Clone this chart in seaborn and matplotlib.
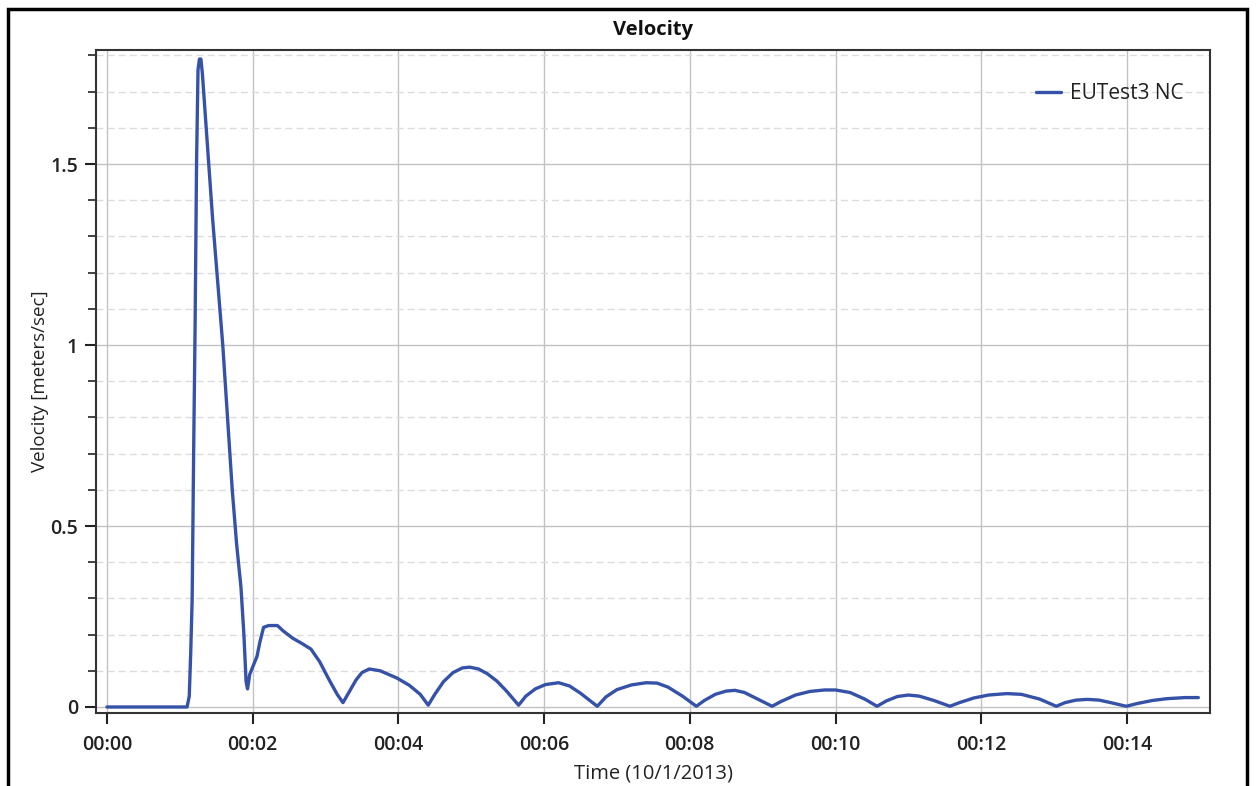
import matplotlib
matplotlib.use("Agg")
import matplotlib.pyplot as plt
import seaborn as sns
import pandas as pd
from matplotlib.ticker import MultipleLocator, FuncFormatter
from matplotlib.patches import Rectangle

# ---- data (time in seconds, velocity in m/s) ----
time_s = [0.0, 1.10, 1.13, 1.15, 1.17, 1.19, 1.21, 1.23, 1.25, 1.27, 1.29, 1.31, 1.45, 1.59,
          1.72, 1.78, 1.84, 1.88, 1.91, 1.93, 1.96, 2.02, 2.06, 2.10, 2.15, 2.22, 2.34, 2.42,
          2.55, 2.68, 2.80, 2.92, 3.05, 3.16, 3.24, 3.32, 3.42, 3.50, 3.60, 3.75, 3.98,
          4.15, 4.30, 4.41, 4.50, 4.62, 4.75, 4.88, 4.98, 5.10, 5.22, 5.35, 5.48, 5.65,
          5.75, 5.88, 6.02, 6.20, 6.35, 6.50, 6.73, 6.85, 7.00, 7.20, 7.40, 7.55, 7.70,
          7.90, 8.09, 8.20, 8.35, 8.50, 8.62, 8.75, 8.90, 9.13, 9.25, 9.45, 9.65, 9.85,
          10.00, 10.20, 10.40, 10.57, 10.70, 10.85, 11.00, 11.15, 11.35, 11.57, 11.70,
          11.90, 12.10, 12.35, 12.55, 12.80, 13.03, 13.15, 13.30, 13.46, 13.62, 13.80,
          13.99, 14.15, 14.35, 14.55, 14.80, 14.98]
velocity = [0.0, 0.0, 0.03, 0.15, 0.30, 0.70, 1.05, 1.50, 1.76, 1.79, 1.79, 1.75, 1.35, 1.00,
            0.60, 0.45, 0.33, 0.20, 0.07, 0.05, 0.09, 0.12, 0.14, 0.18, 0.22, 0.225, 0.225, 0.21,
            0.19, 0.175, 0.16, 0.125, 0.075, 0.035, 0.012, 0.04, 0.075, 0.095, 0.105, 0.100, 0.080,
            0.06, 0.035, 0.005, 0.035, 0.07, 0.095, 0.108, 0.11, 0.105, 0.092, 0.072, 0.045, 0.005,
            0.03, 0.05, 0.062, 0.067, 0.058, 0.038, 0.002, 0.028, 0.048, 0.061, 0.067, 0.066, 0.055,
            0.03, 0.002, 0.018, 0.035, 0.044, 0.046, 0.040, 0.025, 0.002, 0.015, 0.033, 0.043, 0.047,
            0.047, 0.040, 0.022, 0.002, 0.017, 0.029, 0.033, 0.030, 0.018, 0.002, 0.012,
            0.025, 0.033, 0.037, 0.035, 0.022, 0.002, 0.012, 0.019, 0.021, 0.019, 0.011,
            0.002, 0.010, 0.018, 0.023, 0.026, 0.026]
series_name = "EUTest3 NC"
x_ticks = [0, 2, 4, 6, 8, 10, 12, 14]
y_ticks = [0, 0.5, 1, 1.5]
y_tick_labels = ["0", "0.5", "1", "1.5"]

df = pd.DataFrame({"Time": time_s, "Velocity": velocity, "Series": series_name})

sns.set_style("white")
plt.rcParams["font.family"] = ["Open Sans", "DejaVu Sans"]

fig = plt.figure(figsize=(12.57, 7.86), dpi=100)
ax = fig.add_axes([96 / 1257, 1 - 713 / 786, (1210 - 96) / 1257, (713 - 50) / 786])

sns.lineplot(data=df, x="Time", y="Velocity", hue="Series", palette=["#3552a8"],
             linewidth=2.4, ax=ax, sort=False)

ax.set_xlim(-0.15, 15.14)
ax.set_ylim(-0.0166, 1.815)
ax.set_xticks(x_ticks)
ax.xaxis.set_major_formatter(FuncFormatter(lambda v, p: "00:%02d" % int(round(v))))
ax.set_yticks(y_ticks)
ax.set_yticklabels(y_tick_labels)
ax.yaxis.set_minor_locator(MultipleLocator(0.1))

ax.grid(which="major", axis="both", color="#c2c2c2", linestyle="-", linewidth=1.0)
ax.grid(which="minor", axis="y", color="#dcdcdc", linestyle=(0, (5, 3)), linewidth=1.0)
ax.set_axisbelow(True)

ax.tick_params(axis="x", which="major", direction="out", length=8, width=1.5,
               color="#222222", labelsize=14, labelcolor="#222222", bottom=True, pad=8)
ax.tick_params(axis="y", which="major", direction="out", length=8, width=1.5,
               color="#222222", labelsize=14, labelcolor="#222222", left=True, pad=5)
ax.tick_params(axis="y", which="minor", direction="out", length=6, width=1.2,
               color="#222222", left=True)
for lab in ax.get_xticklabels() + ax.get_yticklabels():
    lab.set_fontweight(600)

for sp in ax.spines.values():
    sp.set_color("#333333")
    sp.set_linewidth(1.5)

ax.set_xlabel("Time (10/1/2013)", fontsize=14.5, color="#222222", labelpad=6)
ax.set_ylabel("Velocity [meters/sec]", fontsize=13.5, color="#222222", labelpad=1)
ax.set_title("Velocity", fontsize=14.5, fontweight="bold", color="#111111", pad=11)

leg = ax.legend(loc="upper right", frameon=False, fontsize=15, handlelength=1.2,
                handletextpad=0.4, bbox_to_anchor=(0.993, 0.978))
for t in leg.get_texts():
    t.set_color("#222222")

# outer frame
fig.patches.append(Rectangle((8 / 1257, -0.05), (1247 - 8) / 1257, 1 - 9 / 786 + 0.05,
                             transform=fig.transFigure, fill=False,
                             edgecolor="black", linewidth=2.5))

fig.savefig("out.png", dpi=100)
